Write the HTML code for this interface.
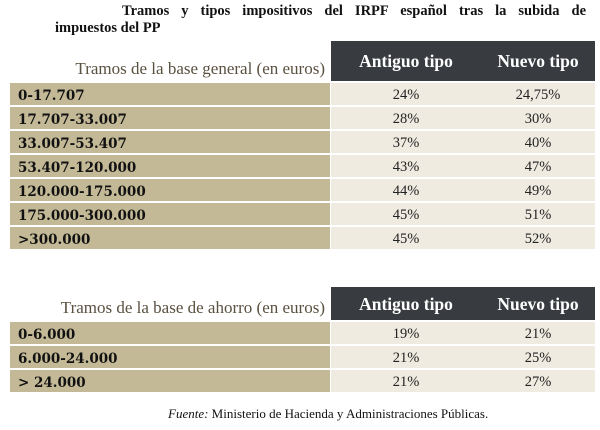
<!DOCTYPE html>
<html><head><meta charset="utf-8"><style>
body{margin:0;width:600px;height:430px;background:#fff;position:relative;font-family:"Liberation Serif",serif;overflow:hidden}
.a{position:absolute}
.t{font-weight:bold;font-size:14.5px;color:#111}
.hd{background:#383c40;color:#fff;font-weight:bold;font-size:17.5px}
.hd span{position:absolute;top:0;text-align:center}
.lab{font-size:17px;color:#5a5040;text-align:right}
.l{background:#c3b997;color:#111;font-weight:bold;font-family:"DejaVu Serif",serif;font-size:13.5px;padding-left:8px;box-sizing:border-box}
.r{background:#efebe0;color:#222;font-size:14.5px}
.r span{position:absolute;top:1px;text-align:center}
</style></head><body>
<div class="a t" style="left:122px;top:3px;width:464px;text-align:justify;text-align-last:justify">Tramos y tipos impositivos del IRPF español tras la subida de</div>
<div class="a t" style="left:55px;top:20px">impuestos del PP</div>

<div class="a hd" style="left:331px;top:41px;width:264px;height:40px;line-height:40px"><span style="left:0;width:150px">Antiguo tipo</span><span style="left:150px;width:114px">Nuevo tipo</span></div>
<div class="a lab" style="left:10px;top:59px;width:315px">Tramos de la base general (en euros)</div>

<div class="a hd" style="left:331px;top:287px;width:264px;height:33px;line-height:35px"><span style="left:0;width:150px">Antiguo tipo</span><span style="left:150px;width:114px">Nuevo tipo</span></div>
<div class="a lab" style="left:10px;top:298px;width:315px">Tramos de la base de ahorro (en euros)</div>

<div class="a" style="left:168px;top:406px;font-size:13px;color:#111"><i>Fuente:</i> Ministerio de Hacienda y Administraciones Públicas.</div>
<script>
function rows(y0,data){var h='';data.forEach(function(d,i){var y=y0+i*24;
h+='<div class="a l" style="left:10px;top:'+y+'px;width:320px;height:22px;line-height:26px">'+d[0]+'</div>';
h+='<div class="a r" style="left:331px;top:'+y+'px;width:264px;height:22px;line-height:22px"><span style="left:0;width:150px">'+d[1]+'</span><span style="left:150px;width:114px">'+d[2]+'</span></div>';});
document.body.insertAdjacentHTML('beforeend',h);}
rows(83,[["0-17.707","24%","24,75%"],["17.707-33.007","28%","30%"],["33.007-53.407","37%","40%"],["53.407-120.000","43%","47%"],["120.000-175.000","44%","49%"],["175.000-300.000","45%","51%"],[">300.000","45%","52%"]]);
rows(322,[["0-6.000","19%","21%"],["6.000-24.000","21%","25%"],["&gt; 24.000","21%","27%"]]);
</script>
</body></html>
